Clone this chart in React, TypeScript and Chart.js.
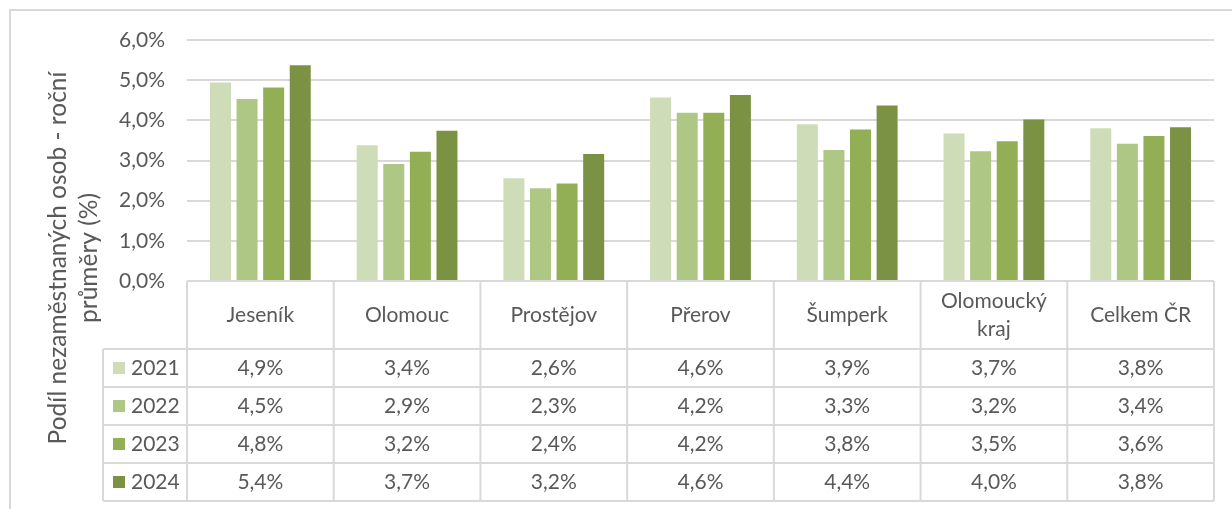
import React, { useEffect, useRef } from 'react';
import { Chart, registerables } from 'chart.js';

Chart.register(...registerables);

const categories = ['Jeseník', 'Olomouc', 'Prostějov', 'Přerov', 'Šumperk', 'Olomoucký kraj', 'Celkem ČR'];
const years = ['2021', '2022', '2023', '2024'];
const values2021 = [4.94, 3.38, 2.56, 4.57, 3.90, 3.67, 3.80];
const values2022 = [4.53, 2.91, 2.31, 4.19, 3.26, 3.23, 3.42];
const values2023 = [4.82, 3.22, 2.43, 4.19, 3.77, 3.48, 3.61];
const values2024 = [5.37, 3.74, 3.16, 4.63, 4.37, 4.02, 3.83];
const seriesValues = [values2021, values2022, values2023, values2024];
const seriesColors = ['#CFDCB8', '#AEC785', '#93AF55', '#7B9143'];
const yTitleLines = ['Podíl nezaměstnaných osob - roční', 'průměry (%)'];

const FONT = 'Lato';
const TEXT = '#595959';
const LINE = '#D9D9D9';

const fmt = (v: number) => v.toFixed(1).replace('.', ',') + '%';

const tablePlugin = {
  id: 'dataTable',
  beforeDraw(chart: any) {
    const { ctx } = chart;
    ctx.save();
    ctx.fillStyle = '#FFFFFF';
    ctx.fillRect(0, 0, chart.width, chart.height);
    ctx.strokeStyle = LINE;
    ctx.lineWidth = 2;
    ctx.beginPath();
    ctx.moveTo(10, chart.height);
    ctx.lineTo(10, 10);
    ctx.lineTo(chart.width, 10);
    ctx.stroke();
    ctx.restore();
  },
  afterDraw(chart: any) {
    const { ctx, chartArea, scales } = chart;
    const xs = scales.x;
    const n = categories.length;
    const colW = (chartArea.right - chartArea.left) / n;
    const top = chartArea.bottom;
    const headerH = 68;
    const rowH = 38;
    const legendLeft = 103;
    const bottom = top + headerH + rowH * years.length;
    ctx.save();
    ctx.strokeStyle = LINE;
    ctx.lineWidth = 2;
    ctx.beginPath();
    ctx.moveTo(chartArea.left, top);
    ctx.lineTo(chartArea.right, top);
    for (let r = 0; r <= years.length; r++) {
      const y = top + headerH + rowH * r;
      ctx.moveTo(legendLeft, y);
      ctx.lineTo(chartArea.right, y);
    }
    for (let i = 0; i <= n; i++) {
      const x = chartArea.left + colW * i;
      ctx.moveTo(x, top);
      ctx.lineTo(x, bottom);
    }
    ctx.moveTo(legendLeft, top + headerH);
    ctx.lineTo(legendLeft, bottom);
    ctx.stroke();

    ctx.fillStyle = TEXT;
    ctx.font = `21px ${FONT}`;
    ctx.textAlign = 'center';
    ctx.textBaseline = 'middle';
    categories.forEach((c, i) => {
      const cx = xs.getPixelForValue(i);
      const words = c.split(' ');
      const lines: string[] = [];
      let cur = '';
      words.forEach((w) => {
        const t = cur ? cur + ' ' + w : w;
        if (ctx.measureText(t).width > colW - 24 && cur) {
          lines.push(cur);
          cur = w;
        } else cur = t;
      });
      lines.push(cur);
      const lh = 28;
      const cy = top + headerH / 2;
      lines.forEach((l, k) => {
        ctx.fillText(l, cx, cy + (k - (lines.length - 1) / 2) * lh);
      });
    });
    years.forEach((yr, r) => {
      const cy = top + headerH + rowH * r + rowH / 2;
      ctx.fillStyle = seriesColors[r];
      ctx.fillRect(legendLeft + 10, cy - 6, 12, 12);
      ctx.fillStyle = TEXT;
      ctx.textAlign = 'left';
      ctx.fillText(yr, legendLeft + 28, cy);
      ctx.textAlign = 'center';
      seriesValues[r].forEach((v, i) => {
        ctx.fillText(fmt(v), xs.getPixelForValue(i), cy);
      });
    });

    ctx.font = `24.5px ${FONT}`;
    ctx.textAlign = 'center';
    ctx.textBaseline = 'middle';
    const titleCY = 258;
    yTitleLines.forEach((l, k) => {
      ctx.save();
      ctx.translate(58 + k * 31, titleCY);
      ctx.rotate(-Math.PI / 2);
      ctx.fillText(l, 0, 0);
      ctx.restore();
    });
    ctx.restore();
  },
};

export default function App() {
  const ref = useRef<HTMLCanvasElement>(null);
  useEffect(() => {
    if (!ref.current) return;
    const chart = new Chart(ref.current, {
      type: 'bar',
      data: {
        labels: categories,
        datasets: years.map((y, i) => ({
          label: y,
          data: seriesValues[i],
          backgroundColor: seriesColors[i],
          borderWidth: 0,
          barPercentage: 0.79,
          categoryPercentage: 0.725,
        })),
      },
      options: {
        animation: false,
        responsive: false,
        devicePixelRatio: 1,
        layout: { padding: { top: 40, right: 18, bottom: 228, left: 0 } },
        plugins: { legend: { display: false }, tooltip: { enabled: false } },
        scales: {
          x: { display: false },
          y: {
            min: 0,
            max: 6,
            afterFit: (s: any) => {
              s.width = 187;
            },
            border: { display: false },
            grid: { color: LINE, lineWidth: 2, drawTicks: false },
            ticks: {
              stepSize: 1,
              padding: 22,
              color: TEXT,
              font: { family: FONT, size: 21 },
              callback: (v: any) => fmt(Number(v)),
            },
          },
        },
      },
      plugins: [tablePlugin],
    });
    return () => chart.destroy();
  }, []);
  return (
    <div style={{ position: 'fixed', left: 0, top: 0, width: 1232, height: 509, background: '#fff' }}>
      <canvas ref={ref} width={1232} height={509} style={{ display: 'block' }} />
    </div>
  );
}
